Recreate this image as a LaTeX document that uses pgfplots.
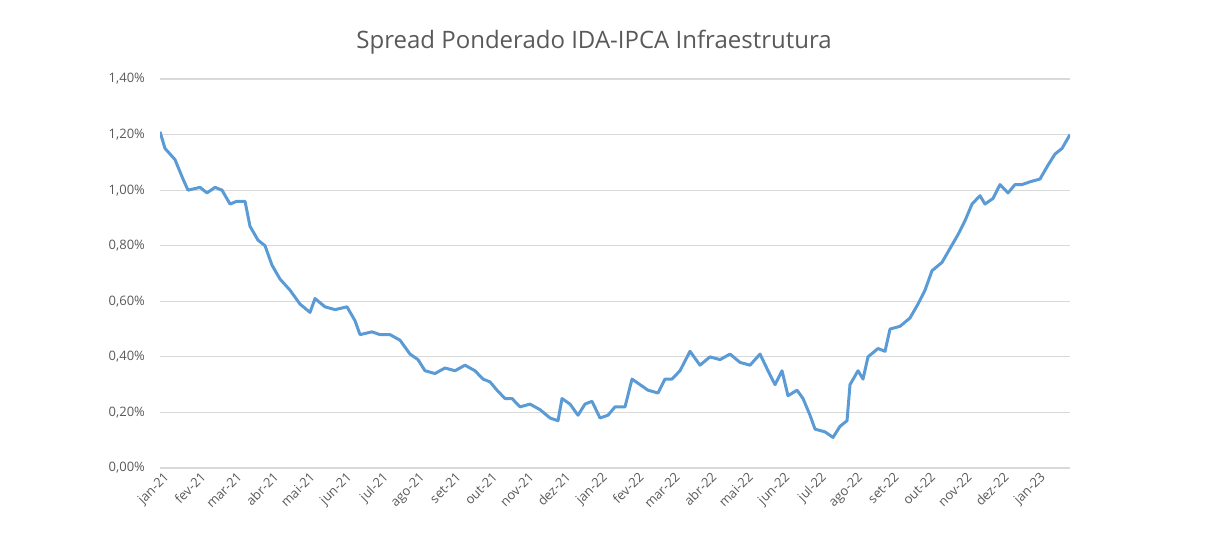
\documentclass[border=0pt]{standalone}
\usepackage{pgfplots}
\pgfplotsset{compat=1.18}
\usepackage{fontspec}
\setmainfont{Open Sans}
\definecolor{lineblue}{HTML}{5B9BD5}
\definecolor{txt}{HTML}{595959}
\definecolor{gridgray}{HTML}{D9D9D9}
\begin{document}
\begin{tikzpicture}
\useasboundingbox (0,0) rectangle (610pt,279pt);
\node[text=txt,font=\fontsize{12}{14}\selectfont] at (297pt,258pt) {Spread Ponderado IDA-IPCA Infraestrutura};
\begin{axis}[at={(80pt,45pt)},anchor=south west,scale only axis,
 width=455pt,height=194.5pt,
 xmin=160,xmax=1070,ymin=0,ymax=1.4,
 axis line style={draw=none},
 tick style={draw=none},
 ytick={0,0.2,...,1.4},
 xmajorgrids=false, ymajorgrids=true, grid style={draw=gridgray,line width=0.6pt},
 yticklabel={\pgfmathprintnumber[fixed,fixed zerofill,precision=2,use comma]{\tick}\%},
 /pgf/number format/assume math mode=true,
 ticklabel style={text=txt,font=\fontsize{6.5}{7.5}\selectfont},
 xtick={163,199.5,236,272.5,309,345.5,382,418.5,455,491.5,528,564.5,601,637.5,674,710.5,747,783.5,820,856.5,893,929.5,966,1002.5,1039},
 xticklabels={jan-21,fev-21,mar-21,abr-21,mai-21,jun-21,jul-21,ago-21,set-21,out-21,nov-21,dez-21,jan-22,fev-22,mar-22,abr-22,mai-22,jun-22,jul-22,ago-22,set-22,out-22,nov-22,dez-22,jan-23},
 xticklabel style={rotate=45,anchor=north east,inner sep=1pt},
 yticklabel style={xshift=-4pt},
]
\addplot[lineblue,line width=1.5pt,line join=round] coordinates {
(160,1.21)(165,1.15)(175,1.11)(183,1.04)(188,1.00)(200,1.01)(207,0.99)(215,1.01)(222,1.00)(230,0.95)(237,0.96)(245,0.96)(250,0.87)(258,0.82)(265,0.80)(272,0.73)(280,0.68)(290,0.64)(300,0.59)(310,0.56)(315,0.61)(325,0.58)(335,0.57)(347,0.58)(355,0.53)(360,0.48)(372,0.49)(380,0.48)(390,0.48)(400,0.46)(410,0.41)(418,0.39)(425,0.35)(435,0.34)(445,0.36)(455,0.35)(465,0.37)(475,0.35)(483,0.32)(490,0.31)(497,0.28)(505,0.25)(512,0.25)(520,0.22)(530,0.23)(540,0.21)(550,0.18)(558,0.17)(562,0.25)(570,0.23)(578,0.19)(585,0.23)(592,0.24)(600,0.18)(608,0.19)(615,0.22)(625,0.22)(632,0.32)(640,0.30)(648,0.28)(658,0.27)(665,0.32)(672,0.32)(680,0.35)(690,0.42)(700,0.37)(710,0.40)(720,0.39)(730,0.41)(740,0.38)(750,0.37)(760,0.41)(768,0.35)(775,0.30)(782,0.35)(788,0.26)(797,0.28)(803,0.25)(810,0.19)(815,0.14)(825,0.13)(833,0.11)(840,0.15)(847,0.17)(850,0.30)(858,0.35)(863,0.32)(868,0.40)(878,0.43)(885,0.42)(890,0.50)(900,0.51)(910,0.54)(918,0.59)(925,0.64)(932,0.71)(942,0.74)(950,0.79)(958,0.84)(965,0.89)(972,0.95)(980,0.98)(985,0.95)(993,0.97)(1000,1.02)(1008,0.99)(1015,1.02)(1022,1.02)(1030,1.03)(1040,1.04)(1048,1.09)(1055,1.13)(1062,1.15)(1070,1.20)
};
\end{axis}
\end{tikzpicture}
\end{document}
